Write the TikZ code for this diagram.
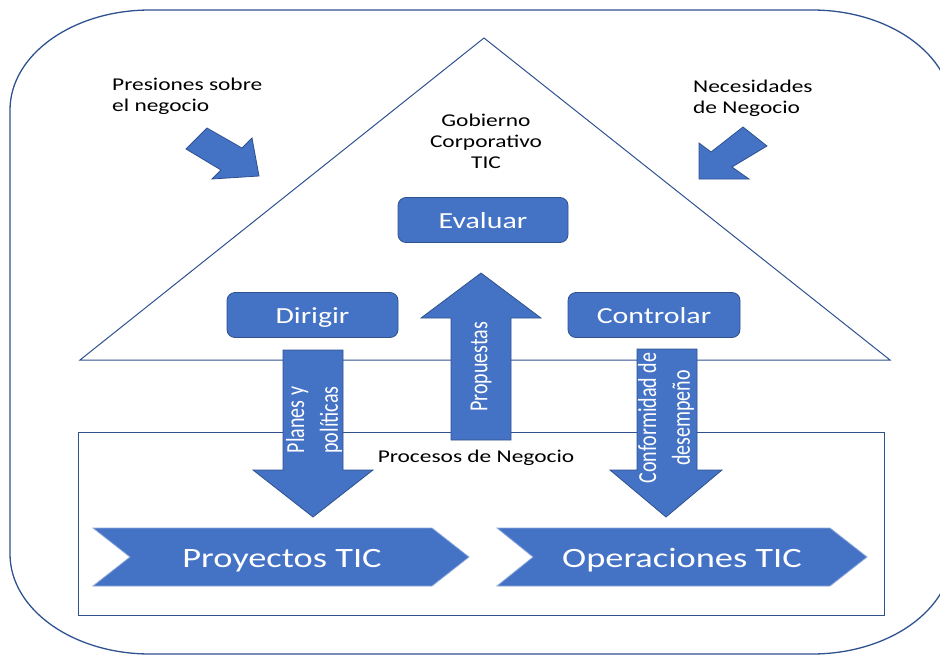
\documentclass[tikz,border=0pt]{standalone}
\usepackage{fontspec}
\setmainfont[FakeStretch=1.3]{Carlito}
\newfontfamily\plainfont{Carlito}
\definecolor{officeblue}{HTML}{4472C4}
\definecolor{edgeblue}{HTML}{2F528F}
\definecolor{chevedge}{HTML}{8FAADC}

\begin{document}
\begin{tikzpicture}[
  x=1pt, y=-1pt,
  frame/.style={draw=edgeblue, line width=1.3pt},
  govbox/.style={draw=edgeblue, fill=officeblue, rounded corners=8pt, line width=0.8pt, text=white,
        font=\fontsize{23}{27}\selectfont, minimum height=45pt, inner sep=0pt, text height=16pt, text depth=0pt},
  blockarrow/.style={draw=edgeblue, fill=officeblue, line width=0.8pt, line join=miter},
  chevron/.style={draw=chevedge, fill=officeblue, line width=0.8pt},
  note/.style={font=\fontsize{18}{21}\selectfont, inner sep=0pt},
  arrowtext/.style={text=white, font=\plainfont\fontsize{20}{26}\selectfont, align=center, inner sep=0pt, xscale=1.3, rotate=90},
  chevtext/.style={text=white, font=\fontsize{28}{32}\selectfont, inner sep=0pt, anchor=base}
]
  \useasboundingbox (0,0) rectangle (940,656);
  \clip (0,0) rectangle (940,656);

  % Outer frame
  \draw[frame] (10,110) .. controls (10,54.8) and (72.7,10) .. (150,10) -- (812,10)
     .. controls (889.3,10) and (952,54.8) .. (952,110) -- (952,554)
     .. controls (952,609.2) and (889.3,654) .. (812,654) -- (150,654)
     .. controls (72.7,654) and (10,609.2) .. (10,554) -- cycle;

  % Roof and process band
  \draw[frame, line width=1pt] (80,360) -- (484,38) -- (890,360) -- cycle;
  \draw[frame, line width=1pt] (78,432) rectangle (884,615);

  % Pressures from outside
  \draw[blockarrow] (207,128) -- (242,148) -- (252,138) -- (259,176) -- (212,179) -- (221,170) -- (186,149) -- cycle;
  \draw[blockarrow] (743,127) -- (767,146) -- (732,167) -- (749,179) -- (699,179) -- (699,143) -- (711,152) -- cycle;
  \node[note, anchor=west, align=left] (presiones) at (112,96) {Presiones sobre\\el negocio};
  \node[note, anchor=west, align=left] (necesidades) at (693,98) {Necesidades\\de Negocio};

  % Governance
  \node[note, align=center] (gobierno) at (486,141) {Gobierno\\Corporativo\\TIC};
  \node[govbox, minimum width=170pt] (evaluar) at (483,220) {Evaluar};
  \node[govbox, minimum width=171pt] (dirigir) at (312.5,315) {Dirigir};
  \node[govbox, minimum width=172pt] (controlar) at (654,315) {Controlar};

  % Vertical flows
  \draw[blockarrow] (283,350) -- (343,350) -- (343,470) -- (373,470) -- (313,517) -- (253,470) -- (283,470) -- cycle;
  \draw[blockarrow] (451,440) -- (451,318) -- (421,318) -- (481,273) -- (541,318) -- (511,318) -- (511,440) -- cycle;
  \draw[blockarrow] (637,349) -- (697,349) -- (697,470) -- (722,470) -- (666,517) -- (610,470) -- (637,470) -- cycle;
  \node[arrowtext] (planes) at (314,420) {Planes y\\políticas};
  \node[arrowtext] (propuestas) at (481,367) {Propuestas};
  \node[arrowtext] (conformidad) at (666,418) {Conformidad de\\desempeño};

  \node[note, anchor=base] (procesos) at (476,462) {Procesos de Negocio};

  % IT chevrons
  \draw[chevron] (93,528) -- (432,528) -- (469,557) -- (432,586) -- (93,586) -- (130,557) -- cycle;
  \draw[chevron] (497,528) -- (830,528) -- (867,557) -- (830,586) -- (497,586) -- (533,557) -- cycle;
  \node[chevtext] (proyectos) at (282,567) {Proyectos TIC};
  \node[chevtext] (operaciones) at (682,567) {Operaciones TIC};
\end{tikzpicture}
\end{document}
